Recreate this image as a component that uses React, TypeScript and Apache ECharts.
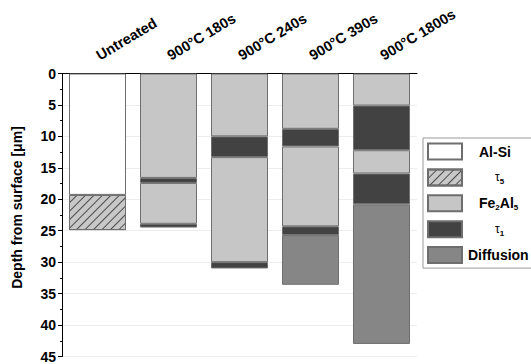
import React, { useEffect, useRef } from "react";
import * as echarts from "echarts";

const categories = ["Untreated", "900°C 180s", "900°C 240s", "900°C 390s", "900°C 1800s"];
// layer thicknesses (µm), top to bottom
const alSi = [19.3, null, null, null, null];
const tau5 = [5.6, null, null, null, null];
const fe2al5Upper = [null, 16.6, 10.0, 8.8, 5.1];
const tau1Upper = [null, 0.8, 3.3, 2.8, 7.1];
const fe2al5Lower = [null, 6.5, 16.7, 12.7, 3.7];
const tau1Lower = [null, 0.6, 1.0, 1.4, 4.9];
const diffusion = [null, null, null, 7.9, 22.2];
const legendNames = ["Al-Si", "τ5", "Fe2Al5", "τ1", "Diffusion"];

const FONT = "'Liberation Sans', Arial, sans-serif";
const BORDER = "#6e6e6e";

export default function App() {
  const ref = useRef<HTMLDivElement>(null);
  useEffect(() => {
    if (!ref.current) return;
    const chart = echarts.init(ref.current, null, { renderer: "svg" });
    const mk = (name: string, data: (number | null)[], color: string, extra: any = {}) => ({
      name,
      type: "bar",
      stack: "depth",
      xAxisIndex: 0,
      barWidth: 57,
      data: data.map((v) => (v === null ? "-" : v)),
      itemStyle: { color, borderColor: BORDER, borderWidth: 1, ...extra },
      emphasis: { disabled: true },
    });
    const legendFmt: Record<string, string> = {
      "Al-Si": "{p12| }{b|Al-Si}",
      "τ5": "{p28| }{t|τ}{s|5}",
      "Fe2Al5": "{p12| }{b|Fe}{s|2}{b|Al}{s|5}",
      "τ1": "{p28| }{t|τ}{s|1}",
      "Diffusion": "{p1| }{b|Diffusion}",
    };
    chart.setOption({
      animation: false,
      backgroundColor: "#fff",
      textStyle: { fontFamily: FONT },
      grid: { left: 62, right: 114, top: 73.5, bottom: 7.5 },
      legend: {
        data: legendNames,
        orient: "vertical",
        left: 423,
        top: 138,
        itemWidth: 34,
        itemHeight: 16,
        itemGap: 7.9,
        padding: [4.5, 4, 4, 4],
        borderColor: "#999",
        borderWidth: 1,
        backgroundColor: "#fff",
        icon: "rect",
        selectedMode: false,
        formatter: (n: string) => legendFmt[n] || n,
        textStyle: {
          fontFamily: FONT,
          color: "#000",
          rich: {
            p12: { width: 12 },
            p28: { width: 28 },
            p1: { width: 1 },
            b: { fontSize: 14, fontWeight: "bold", fontFamily: FONT, color: "#000", lineHeight: 16 },
            t: { fontSize: 12, fontFamily: FONT, color: "#000", lineHeight: 16 },
            s: { fontSize: 8, fontWeight: "bold", fontFamily: FONT, color: "#000", lineHeight: 8, verticalAlign: "bottom" },
          },
        },
      },
      xAxis: [
        {
          type: "category",
          data: categories,
          position: "top",
          boundaryGap: true,
          axisLine: { lineStyle: { color: "#000", width: 1 } },
          axisTick: { alignWithLabel: true, length: 4, lineStyle: { color: "#000" } },
          axisLabel: {
            rotate: 31,
            margin: 17,
            fontSize: 14.5,
            fontWeight: "bold",
            color: "#000",
            fontFamily: FONT,
            interval: 0,
          },
          splitLine: { show: false },
        },
        {
          type: "category",
          data: categories,
          position: "top",
          boundaryGap: true,
          axisLine: { show: false },
          axisTick: { alignWithLabel: false, length: 2, lineStyle: { color: "#000" } },
          axisLabel: { show: false },
          splitLine: { show: false },
        },
      ],
      yAxis: {
        type: "value",
        inverse: true,
        min: 0,
        max: 45,
        interval: 5,
        name: "Depth from surface [μm]",
        nameLocation: "middle",
        nameRotate: 90,
        nameGap: 38,
        nameTextStyle: { fontSize: 14, fontWeight: "bold", color: "#000", fontFamily: FONT, padding: [0, 0, 0, 15] },
        axisLine: { show: true, lineStyle: { color: "#000", width: 1 } },
        axisTick: { show: true, length: 4, lineStyle: { color: "#000" } },
        minorTick: { show: true, splitNumber: 2, length: 2, lineStyle: { color: "#000" } },
        axisLabel: { fontSize: 14, fontWeight: "bold", color: "#000", fontFamily: FONT, margin: 6 },
        splitLine: { show: true, lineStyle: { color: "#ededed", width: 1 } },
      },
      series: [
        mk("Al-Si", alSi, "#ffffff"),
        mk("τ5", tau5, "#c8c8c8", {
          decal: {
            symbol: "rect",
            symbolSize: 1,
            dashArrayX: [1, 0],
            dashArrayY: [1, 5],
            rotation: -Math.PI / 4,
            color: "#4a4a4a",
          },
        }),
        mk("Fe2Al5", fe2al5Upper, "#c6c6c6"),
        mk("τ1", tau1Upper, "#424242"),
        mk("Fe2Al5", fe2al5Lower, "#c6c6c6"),
        mk("τ1", tau1Lower, "#424242"),
        mk("Diffusion", diffusion, "#868686"),
      ],
    });
    return () => chart.dispose();
  }, []);
  return (
    <div
      ref={ref}
      style={{ position: "fixed", left: 0, top: 0, width: 531, height: 364 }}
    />
  );
}
